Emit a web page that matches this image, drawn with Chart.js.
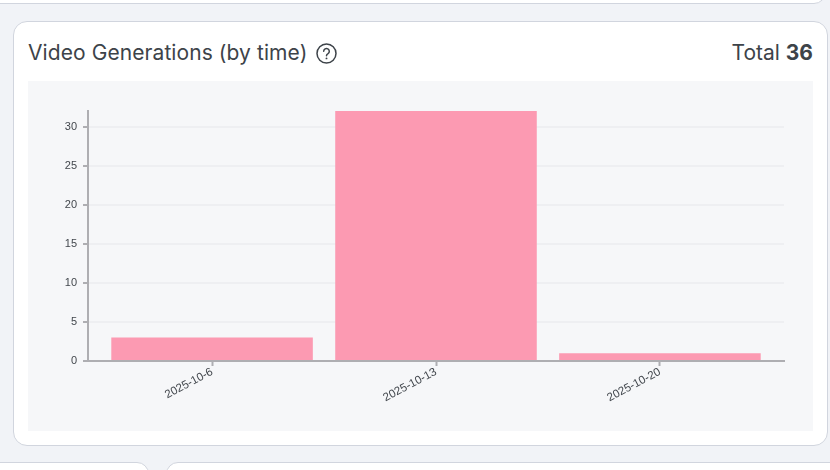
<!DOCTYPE html>
<html lang="en">
<head>
    <meta charset="UTF-8">
    <title>Video Generations (by time)</title>
    <script src="https://cdn.jsdelivr.net/npm/chart.js@4"></script>
    <style>
        html, body { margin: 0; width: 830px; height: 470px; overflow: hidden; background: #f1f3f7; font-family: Inter, sans-serif; }
        .stub { position: absolute; background: #fff; border: 1px solid #d1d5de; box-sizing: border-box; }
        .stub-top { left: -20px; top: -30px; width: 846px; height: 34px; border-radius: 12px; }
        .stub-left { left: -20px; top: 462px; width: 169px; height: 40px; border-radius: 12px; }
        .stub-right { left: 166px; top: 462px; width: 680px; height: 40px; border-radius: 12px; }
        .card { position: absolute; left: 13px; top: 21px; width: 815px; height: 425px; box-sizing: border-box; background: #fff; border: 1px solid #d1d5de; border-radius: 14px; }
        .title { position: absolute; left: 28px; top: 41px; font-size: 21px; letter-spacing: 0.08px; line-height: 24px; color: #3d4349; white-space: nowrap; }
        .help { position: absolute; left: 316px; top: 43px; }
        .total { position: absolute; right: 17px; top: 41px; font-size: 21px; line-height: 24px; color: #3d4349; white-space: nowrap; }
        .total b { font-weight: 700; }
        .panel { position: absolute; left: 28px; top: 81px; width: 785px; height: 350px; background: #f6f7f9; }
    </style>
</head>
<body>
    <div class="stub stub-top"></div>
    <div class="stub stub-left"></div>
    <div class="stub stub-right"></div>
    <div class="card"></div>
    <div class="title">Video Generations (by time)</div>
    <svg class="help" width="21" height="21" viewBox="0 0 21 21">
        <circle cx="10.5" cy="10.5" r="9.5" fill="none" stroke="#3d4349" stroke-width="1.5"/>
        <path d="M7.7 8.2a2.8 2.8 0 1 1 4.3 2.4c-1 .6-1.5 1.1-1.5 2.2" fill="none" stroke="#3d4349" stroke-width="1.5" stroke-linecap="round"/>
        <circle cx="10.5" cy="15.4" r="0.95" fill="#3d4349"/>
    </svg>
    <div class="total">Total <b>36</b></div>
    <div class="panel"><canvas id="timeChart" width="785" height="350"></canvas></div>

    <script>
        const categories = ['2025-10-6', '2025-10-13', '2025-10-20'];
        const generations = [3, 32, 1];
        const yTicks = [0, 5, 10, 15, 20, 25, 30];

        new Chart(document.getElementById('timeChart'), {
            type: 'bar',
            data: {
                datasets: [{
                    data: generations.map((v, i) => ({ x: i, y: v })),
                    backgroundColor: '#fc9ab2',
                    barPercentage: 0.9,
                    categoryPercentage: 1
                }]
            },
            options: {
                responsive: false,
                animation: false,
                layout: { padding: { top: 30, right: 29, left: 0, bottom: 0 } },
                plugins: { legend: { display: false }, tooltip: { enabled: false } },
                scales: {
                    x: {
                        // linear axis so the bars sit inset from the ends of the axis line
                        type: 'linear',
                        offset: false,
                        min: -0.554,
                        max: 2.554,
                        afterFit: (s) => { s.height = 70; },
                        afterBuildTicks: (s) => { s.ticks = categories.map((c, i) => ({ value: i })); },
                        grid: { offset: false, drawOnChartArea: false, tickColor: '#aeaeb2', tickWidth: 2, tickLength: 5 },
                        border: { color: '#aeaeb2', width: 2 },
                        ticks: {
                            minRotation: 28,
                            maxRotation: 28,
                            padding: -1,
                            color: '#42474d',
                            font: { family: 'Liberation Sans', size: 11.5 },
                            callback: (v) => categories[v]
                        }
                    },
                    y: {
                        min: 0,
                        max: 32,
                        afterFit: (s) => { s.width = 60; },
                        afterBuildTicks: (s) => { s.ticks = yTicks.map((v) => ({ value: v })); },
                        grid: { color: '#eeeff2', lineWidth: 2, tickColor: '#aeaeb2', tickLength: 5 },
                        border: { color: '#aeaeb2', width: 2 },
                        ticks: {
                            padding: 6,
                            color: '#42474d',
                            font: { family: 'Liberation Sans', size: 11 }
                        }
                    }
                }
            }
        });
    </script>
</body>
</html>
